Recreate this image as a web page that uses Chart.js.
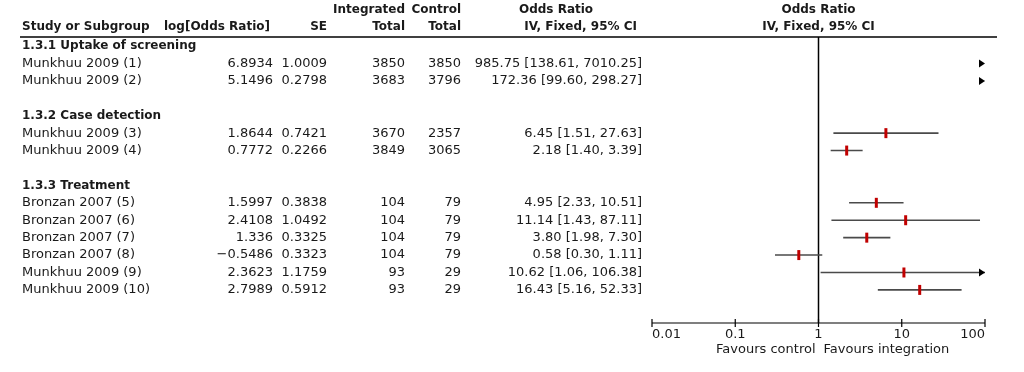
<!DOCTYPE html>
<html>
<head>
<meta charset="utf-8">
<script src="https://cdn.jsdelivr.net/npm/chart.js@4/dist/chart.umd.min.js"></script>
<style>
  html, body { margin: 0; background: #fff; }
  #wrap { width: 1024px; height: 372px; position: relative; }
</style>
</head>
<body>
<div id="wrap"><canvas id="forest"></canvas></div>
<script>
// données du forest plot
const subgroups = ['1.3.1 Uptake of screening', '1.3.2 Case detection', '1.3.3 Treatment'];
const studies = ['Munkhuu 2009 (1)', 'Munkhuu 2009 (2)', 'Munkhuu 2009 (3)', 'Munkhuu 2009 (4)',
  'Bronzan 2007 (5)', 'Bronzan 2007 (6)', 'Bronzan 2007 (7)', 'Bronzan 2007 (8)',
  'Munkhuu 2009 (9)', 'Munkhuu 2009 (10)'];
const studyGroup = [0, 0, 1, 1, 2, 2, 2, 2, 2, 2];
const logOR = [6.8934, 5.1496, 1.8644, 0.7772, 1.5997, 2.4108, 1.336, -0.5486, 2.3623, 2.7989];
const se = [1.0009, 0.2798, 0.7421, 0.2266, 0.3838, 1.0492, 0.3325, 0.3323, 1.1759, 0.5912];
const integratedTotal = [3850, 3683, 3670, 3849, 104, 104, 104, 104, 93, 93];
const controlTotal = [3850, 3796, 2357, 3065, 79, 79, 79, 79, 29, 29];
const oddsRatio = [985.75, 172.36, 6.45, 2.18, 4.95, 11.14, 3.80, 0.58, 10.62, 16.43];
const ciLow = [138.61, 99.60, 1.51, 1.40, 2.33, 1.43, 1.98, 0.30, 1.06, 5.16];
const ciHigh = [7010.25, 298.27, 27.63, 3.39, 10.51, 87.11, 7.30, 1.11, 106.38, 52.33];
const tickValues = [0.01, 0.1, 1, 10, 100];
const tickLabels = ['0.01', '0.1', '1', '10', '100'];

// numéro de ligne : titre de sous-groupe, études, puis une ligne vide
const groupRow = [];
const studyRow = [];
let r = 0;
subgroups.forEach((g, gi) => {
  groupRow.push(r++);
  studyGroup.forEach((sg, i) => { if (sg === gi) studyRow[i] = r++; });
  r++;
});

const FONT = '"DejaVu Sans", sans-serif';
const INK = '#1a1a1a';

const fmtNum = v => String(v).replace('-', '\u2212');

function text(ctx, s, x, y, align, bold) {
  ctx.font = bold ? 'bold 12px ' + FONT : '13px ' + FONT;
  ctx.textAlign = align;
  ctx.fillText(s, x, y);
}

const tablePlugin = {
  id: 'table',
  beforeDatasetsDraw(chart) {
    const ctx = chart.ctx;
    const xs = chart.scales.x;
    const ys = chart.scales.y;
    const area = chart.chartArea;
    ctx.save();
    ctx.fillStyle = INK;
    ctx.textBaseline = 'middle';

    // en-têtes
    text(ctx, 'Integrated', 405, 10, 'right', true);
    text(ctx, 'Control', 461, 10, 'right', true);
    text(ctx, 'Odds Ratio', 556, 10, 'center', true);
    text(ctx, 'Odds Ratio', xs.getPixelForValue(1), 10, 'center', true);
    text(ctx, 'Study or Subgroup', 22, 27, 'left', true);
    text(ctx, 'log[Odds Ratio]', 270, 27, 'right', true);
    text(ctx, 'SE', 327, 27, 'right', true);
    text(ctx, 'Total', 405, 27, 'right', true);
    text(ctx, 'Total', 461, 27, 'right', true);
    text(ctx, 'IV, Fixed, 95% CI', 637, 27, 'right', true);
    text(ctx, 'IV, Fixed, 95% CI', xs.getPixelForValue(1), 27, 'center', true);

    ctx.strokeStyle = '#000';
    ctx.lineWidth = 1.5;
    ctx.beginPath();
    ctx.moveTo(20, area.top);
    ctx.lineTo(997, area.top);
    ctx.stroke();

    subgroups.forEach((g, gi) => {
      text(ctx, g, 22, ys.getPixelForValue(groupRow[gi]), 'left', true);
    });

    studies.forEach((s, i) => {
      const y = ys.getPixelForValue(studyRow[i]);
      text(ctx, s, 22, y, 'left');
      text(ctx, fmtNum(logOR[i]), 273, y, 'right');
      text(ctx, fmtNum(se[i]), 327, y, 'right');
      text(ctx, String(integratedTotal[i]), 405, y, 'right');
      text(ctx, String(controlTotal[i]), 461, y, 'right');
      text(ctx, oddsRatio[i].toFixed(2) + ' [' + ciLow[i].toFixed(2) + ', ' + ciHigh[i].toFixed(2) + ']', 642, y, 'right');
    });

    // ligne d'absence d'effet
    const x1 = xs.getPixelForValue(1);
    ctx.strokeStyle = '#000';
    ctx.lineWidth = 1.5;
    ctx.beginPath();
    ctx.moveTo(x1, area.top);
    ctx.lineTo(x1, area.bottom);
    ctx.stroke();

    // axe des x avec graduations
    ctx.lineWidth = 1.2;
    ctx.beginPath();
    ctx.moveTo(area.left, area.bottom);
    ctx.lineTo(area.right, area.bottom);
    xs.ticks.forEach(t => {
      const px = xs.getPixelForValue(t.value);
      ctx.moveTo(px, area.bottom - 4);
      ctx.lineTo(px, area.bottom + 4);
    });
    ctx.stroke();

    text(ctx, 'Favours control', x1 - 3, 350, 'right');
    text(ctx, 'Favours integration', x1 + 5, 350, 'left');

    // intervalles de confiance
    const min = xs.min, max = xs.max;
    studies.forEach((s, i) => {
      const y = ys.getPixelForValue(studyRow[i]);
      const lo = Math.max(ciLow[i], min);
      const hi = Math.min(ciHigh[i], max);
      ctx.strokeStyle = '#4a4a4a';
      ctx.lineWidth = 1.6;
      if (lo < hi) {
        ctx.beginPath();
        ctx.moveTo(xs.getPixelForValue(lo), y);
        ctx.lineTo(xs.getPixelForValue(hi), y);
        ctx.stroke();
      }
      if (ciHigh[i] > max) {
        const tip = xs.getPixelForValue(max);
        ctx.fillStyle = '#000';
        ctx.beginPath();
        ctx.moveTo(tip, y);
        ctx.lineTo(tip - 6, y - 4);
        ctx.lineTo(tip - 6, y + 4);
        ctx.closePath();
        ctx.fill();
      }
    });
    ctx.restore();
  }
};

new Chart(document.getElementById('forest'), {
  type: 'scatter',
  data: {
    datasets: [{
      data: studies.map((s, i) => ({ x: oddsRatio[i], y: studyRow[i] })),
      pointStyle: 'line',
      rotation: 90,
      radius: 5,
      borderWidth: 3,
      borderColor: '#c00000',
      backgroundColor: '#c00000',
      clip: 0
    }]
  },
  options: {
    responsive: true,
    maintainAspectRatio: false,
    animation: false,
    events: [],
    layout: { padding: { left: 652, right: 39, top: 37, bottom: 0 } },
    plugins: { legend: { display: false }, tooltip: { enabled: false } },
    scales: {
      x: {
        type: 'logarithmic',
        min: 0.01,
        max: 100,
        afterBuildTicks: scale => { scale.ticks = tickValues.map(v => ({ value: v })); },
        afterFit: scale => { scale.height = 49; },
        grid: { display: false, drawTicks: false },
        border: { display: false },
        ticks: {
          autoSkip: false,
          maxRotation: 0,
          align: 'inner',
          padding: 4,
          color: INK,
          font: { family: FONT, size: 13 },
          callback: (v, i) => tickLabels[i]
        }
      },
      y: {
        type: 'linear',
        reverse: true,
        min: -0.52,
        max: 15.9,
        display: false
      }
    }
  },
  plugins: [tablePlugin]
});
</script>
</body>
</html>
